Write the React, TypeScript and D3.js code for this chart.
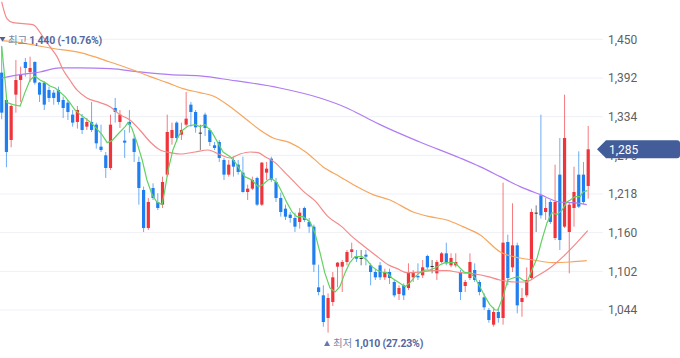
import React from 'react';
import * as d3 from 'd3';

const W = 680;
const H = 358;

// Candle data (KRW), oldest -> newest
const opens = [1400,1359,1299,1367,1389,1416,1401,1416,1385,1385,1374,1370,1374,1359,1355,1337,1326,1332,1319,1326,1322,1289,1276,1257,1347,1326,1298,1326,1301,1266,1224,1167,1227,1206,1202,1247,1302,1325,1307,1322,1352,1341,1310,1337,1314,1291,1296,1269,1247,1269,1262,1250,1221,1226,1242,1202,1250,1271,1236,1212,1196,1187,1182,1176,1197,1176,1169,1078,1066,1032,1056,1109,1109,1116,1131,1124,1122,1127,1111,1101,1111,1093,1101,1086,1068,1081,1077,1093,1095,1096,1125,1110,1099,1116,1129,1111,1111,1101,1080,1092,1104,1086,1063,1044,1022,1041,1032,1146,1108,1141,1056,1066,1092,1190,1216,1191,1206,1152,1247,1169,1161,1197,1247,1247,1230];
const highs = [1440,1367,1352,1419,1409,1422,1424,1417,1386,1387,1379,1374,1379,1364,1359,1344,1350,1338,1332,1356,1325,1322,1281,1337,1362,1344,1314,1344,1307,1274,1229,1212,1234,1219,1244,1337,1325,1327,1325,1371,1356,1344,1322,1340,1317,1296,1299,1272,1269,1274,1269,1274,1232,1244,1244,1266,1266,1274,1242,1220,1202,1191,1190,1197,1199,1182,1172,1112,1081,1069,1101,1116,1119,1134,1145,1134,1134,1134,1114,1105,1116,1106,1106,1089,1081,1084,1114,1104,1114,1119,1127,1119,1119,1131,1145,1129,1129,1104,1089,1129,1114,1089,1069,1047,1048,1047,1235,1157,1204,1145,1077,1108,1196,1201,1337,1212,1209,1262,1302,1367,1206,1259,1282,1266,1320];
const lows = [1330,1258,1288,1340,1356,1394,1386,1382,1356,1344,1356,1352,1352,1332,1329,1319,1316,1308,1314,1311,1286,1281,1242,1254,1325,1317,1272,1310,1266,1202,1161,1164,1209,1194,1197,1244,1292,1296,1299,1319,1319,1310,1284,1305,1290,1284,1266,1239,1244,1244,1247,1220,1209,1224,1200,1200,1239,1236,1206,1184,1179,1175,1161,1166,1176,1160,1101,1066,1019,1010,1050,1078,1071,1111,1122,1116,1111,1111,1081,1089,1089,1089,1083,1063,1059,1059,1074,1086,1089,1092,1105,1099,1089,1114,1111,1108,1108,1059,1071,1089,1086,1066,1044,1025,1019,1025,1022,1081,1101,1039,1034,1063,1089,1161,1181,1179,1173,1149,1134,1167,1099,1169,1197,1203,1211];
const closes = [1340,1281,1350,1389,1397,1407,1407,1385,1367,1352,1362,1362,1356,1347,1341,1325,1344,1314,1326,1314,1294,1284,1257,1322,1341,1337,1295,1322,1281,1227,1167,1206,1212,1197,1236,1311,1314,1302,1314,1331,1341,1318,1310,1317,1296,1287,1272,1247,1262,1259,1251,1221,1226,1239,1202,1265,1256,1239,1212,1191,1184,1182,1169,1190,1179,1169,1112,1071,1026,1062,1093,1115,1116,1131,1135,1121,1122,1124,1101,1093,1093,1101,1092,1066,1077,1066,1101,1101,1093,1108,1108,1110,1116,1129,1114,1122,1116,1071,1086,1116,1089,1071,1048,1029,1041,1032,1145,1092,1141,1051,1062,1089,1191,1190,1186,1197,1176,1206,1149,1302,1202,1221,1199,1206,1285];

// Moving averages: [candle index, price]
const ma5: [number, number][] = [[0,1439],[0.7,1389],[1.1,1355],[2.4,1352],[3.9,1350],[4.9,1370],[6,1389],[7,1395],[8.1,1389],[9.2,1385],[10.2,1380],[11.3,1377],[12.3,1371],[13.4,1364],[14.4,1355],[15.5,1344],[16.6,1337],[17.6,1332],[18.7,1326],[19.7,1319],[21.2,1307],[22.3,1295],[23.3,1298],[24.6,1308],[26.1,1319],[26.7,1325],[27.5,1317],[28.6,1295],[29.7,1269],[30.7,1239],[31.8,1217],[32.8,1206],[33.9,1202],[34.5,1224],[35.2,1254],[36.2,1284],[37.3,1304],[38.3,1314],[39.4,1320],[40.9,1322],[41.9,1319],[43,1322],[44.5,1310],[45.7,1295],[46.8,1281],[48.3,1274],[49.3,1266],[50.4,1254],[51.4,1244],[52.9,1239],[54.2,1229],[55.2,1232],[56.3,1239],[57.1,1241],[58.2,1235],[59.3,1220],[60.3,1205],[61.4,1191],[62.4,1184],[63.7,1184],[65.2,1176],[66.2,1160],[67.3,1130],[68.3,1100],[69.4,1077],[70.5,1071],[71.5,1079],[72.6,1100],[73.6,1115],[74.7,1124],[76.2,1124],[77.2,1119],[78.3,1109],[79.3,1104],[80.4,1101],[81.5,1100],[82.5,1092],[83.8,1086],[85.3,1079],[86.3,1085],[87.4,1094],[88.4,1100],[89.5,1104],[90.5,1104],[91.6,1107],[92.7,1112],[93.7,1115],[95.8,1115],[96.9,1107],[97.9,1100],[99,1100],[100.1,1092],[101.1,1079],[102.2,1064],[103.2,1052],[104.3,1044],[104.9,1044],[106,1064],[107,1089],[108.1,1092],[109.2,1094],[110.2,1089],[111.1,1086],[112.1,1104],[113.2,1122],[114.2,1149],[115.3,1175],[116.3,1190],[117.4,1187],[118.5,1194],[119.5,1206],[120.2,1209],[121.2,1214],[122.3,1214],[122.9,1221],[123.8,1223]];
const ma20: [number, number][] = [[0,1506],[1.1,1481],[2.4,1475],[6.6,1472],[8.7,1454],[10.2,1439],[11.7,1424],[13,1404],[14.4,1389],[15.9,1374],[18,1362],[20.8,1355],[22.9,1349],[25,1337],[27.1,1329],[29.2,1314],[31.4,1296],[33.5,1284],[35.6,1280],[37.7,1278],[40.9,1281],[43.6,1284],[46.2,1277],[48.3,1272],[50.4,1278],[52.5,1281],[54.2,1280],[55.7,1274],[57.8,1265],[59.9,1250],[62,1235],[64.1,1220],[66.2,1208],[69,1184],[71.9,1169],[74.1,1154],[76.2,1142],[78.9,1127],[81.7,1112],[83.6,1106],[85.7,1100],[88.4,1101],[91.2,1103],[94.1,1103],[96.9,1100],[100.1,1098],[102.8,1094],[105.3,1089],[108.5,1086],[110.6,1086],[113.2,1095],[115.9,1107],[118.7,1124],[121.6,1145],[123.9,1163]];
const ma60: [number, number][] = [[0,1448],[3.9,1445],[10.2,1437],[16.6,1430],[22.9,1416],[27.8,1404],[31.4,1394],[35,1385],[38.3,1376],[41.9,1370],[44.7,1365],[48.3,1349],[51.9,1329],[54.6,1314],[57.4,1302],[60.9,1295],[64.5,1280],[67.9,1259],[71.5,1244],[75.1,1229],[78.5,1217],[82.1,1209],[87,1191],[90.5,1184],[94.1,1179],[97.5,1169],[101.1,1157],[105.4,1131],[109.6,1122],[112.4,1119],[116.6,1115],[120.2,1116],[123.7,1118]];
const ma120: [number, number][] = [[0,1392],[3.9,1397],[8.1,1401],[12.3,1407],[16.6,1407],[22.9,1406],[29.2,1401],[35.6,1397],[41.9,1395],[48.3,1389],[58.8,1377],[67.3,1362],[73,1347],[77.2,1332],[80,1322],[88.4,1296],[96.9,1272],[101.1,1259],[105.4,1244],[109.6,1229],[113.9,1217],[118,1206],[120.8,1205],[123.7,1202]];

const yTicks = [1044, 1102, 1160, 1218, 1276, 1334, 1392, 1450];
const lastPrice = 1285;
const highLabel = { idx: 0, value: 1440, pct: '-10.76%' };
const lowLabel = { idx: 69, value: 1010, pct: '27.23%' };

const UP = '#f0343c';
const DOWN = '#1f7ff0';
const DOJI = '#333333';
const fmt = d3.format(',');

export default function App() {
  const x = d3.scaleLinear().domain([0, closes.length - 1]).range([1.7, 588.2]);
  const y = d3.scaleLinear().domain([1044, 1450]).range([310, 39.3]);
  const bodyW = 3.2;

  const line = (curve: d3.CurveFactory) =>
    d3.line<[number, number]>().x((d) => x(d[0])).y((d) => y(d[1])).curve(curve);

  const font = "Roboto, 'Noto Sans CJK KR', sans-serif";
  const yLast = y(lastPrice);
  const lx = x(lowLabel.idx);

  return (
    <svg width={W} height={H} style={{ position: 'absolute', left: 0, top: 0, background: '#fff' }} fontFamily={font}>
      <defs>
        <clipPath id="plot">
          <rect x={0} y={0} width={600} height={H} />
        </clipPath>
      </defs>
      {yTicks.map((t) => (
        <g key={t}>
          <line x1={0} x2={603} y1={y(t)} y2={y(t)} stroke="#eef0f6" strokeWidth={1} />
          <text x={608} y={y(t)} dy="0.35em" fontSize={12} fill="#5f5f5f">{fmt(t)}</text>
        </g>
      ))}
      <g clipPath="url(#plot)">
        {closes.map((c, i) => {
          const o = opens[i];
          const col = c > o ? UP : c < o ? DOWN : DOJI;
          const top = y(Math.max(o, c));
          const bot = y(Math.min(o, c));
          return (
            <g key={i}>
              <line x1={x(i)} x2={x(i)} y1={y(highs[i])} y2={y(lows[i])} stroke={col} strokeOpacity={0.65} strokeWidth={1} />
              <rect x={x(i) - bodyW / 2} y={top} width={bodyW} height={Math.max(1, bot - top)} fill={col} />
            </g>
          );
        })}
        <path d={line(d3.curveMonotoneX)(ma120) || ''} fill="none" stroke="#b07cf2" strokeWidth={1.2} />
        <path d={line(d3.curveMonotoneX)(ma60) || ''} fill="none" stroke="#f6a65e" strokeWidth={1.2} />
        <path d={line(d3.curveMonotoneX)(ma20) || ''} fill="none" stroke="#f48a8a" strokeWidth={1.2} />
        <path d={line(d3.curveLinear)(ma5) || ''} fill="none" stroke="#62d262" strokeWidth={1.2} />
      </g>

      {/* high label */}
      <path d="M-0.5,37 L5.5,37 L2.5,41.5 Z" fill="#4f5f91" />
      <text x={8} y={43.5} fontSize={10.5} letterSpacing={-0.2}>
        <tspan fill="#7c87a6">최고 </tspan>
        <tspan fill="#5468a0" fontWeight="bold">{fmt(highLabel.value)} ({highLabel.pct})</tspan>
      </text>

      {/* low label */}
      <path d={`M${lx - 4},346 L${lx + 2},346 L${lx - 1},340.5 Z`} fill="#6778b0" />
      <text x={lx + 5} y={347} fontSize={10.5} letterSpacing={-0.2}>
        <tspan fill="#7c87a6">최저 </tspan>
        <tspan fill="#5468a0" fontWeight="bold">{fmt(lowLabel.value)} ({lowLabel.pct})</tspan>
      </text>

      {/* last price tag */}
      <path
        d={`M597,${yLast} L606,${yLast - 9} H677 a3,3 0 0 1 3,3 V${yLast + 6} a3,3 0 0 1 -3,3 H606 Z`}
        fill="#435d9a"
      />
      <text x={609} y={yLast} dy="0.36em" fontSize={12} fill="#ffffff">{fmt(lastPrice)}</text>
    </svg>
  );
}
